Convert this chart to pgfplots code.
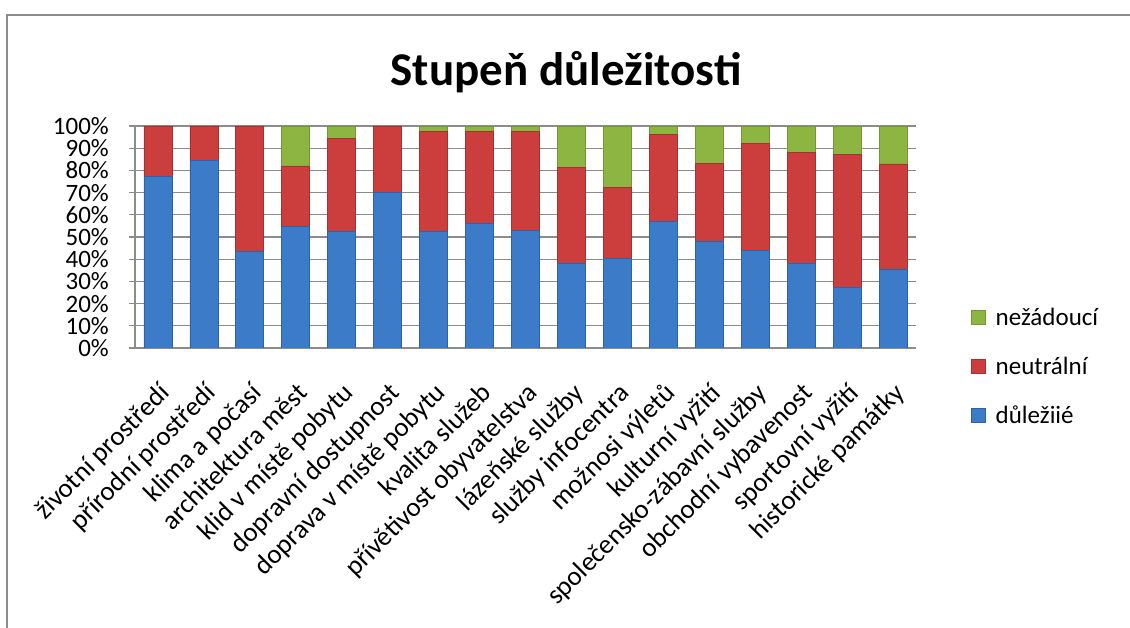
\documentclass[border=0pt]{standalone}
\usepackage{pgfplots}
\usepackage{pgfplotstable}
\pgfplotsset{compat=1.18}
\usepackage{fontspec}
\setmainfont{Carlito}
\definecolor{cblue}{HTML}{3C7BC8}
\definecolor{cblueD}{HTML}{2C62A6}
\definecolor{cred}{HTML}{CC3E3E}
\definecolor{credD}{HTML}{A53131}
\definecolor{cgreen}{HTML}{8DB541}
\definecolor{cgreenD}{HTML}{739833}
\definecolor{gridc}{HTML}{8C8C8C}
\pgfplotstableread{
x b r g
0 77.1 22.9 0
1 84.4 15.6 0
2 43.3 56.7 0
3 54.9 27.1 18.0
4 52.3 42.0 5.7
5 70.2 29.8 0
6 52.3 45.1 2.6
7 55.9 41.5 2.6
8 53.1 44.3 2.6
9 38.3 43.1 18.6
10 40.2 32.0 27.8
11 57.1 39.1 3.8
12 48.1 35.1 16.8
13 44.1 47.9 8.0
14 38.3 49.8 11.9
15 27.1 60.0 12.9
16 35.6 47.3 17.1
}\data
\begin{document}
\begin{tikzpicture}[x=1pt,y=1pt]
\useasboundingbox (0,0) rectangle (1130,628);
\draw[gridc, line width=1.5pt] (7,0) -- (7,613) -- (1130,613);
\node[font=\fontsize{47}{50}\selectfont\bfseries] at (566,556) {Stupeň důležitosti};
\begin{axis}[
  at={(135pt,280pt)}, anchor=south west,
  scale only axis, width=781pt, height=222pt,
  ybar stacked, bar width=28pt,
  xmin=-0.5, xmax=16.5, ymin=0, ymax=100,
  xtick={0,...,16},
  xticklabels={životní prostředí, přírodní prostředí, klima a počasí, architektura měst, klid v místě pobytu, dopravní dostupnost, doprava v místě pobytu, kvalita služeb, přívětivost obyvatelstva, lázeňské služby, služby infocentra, možnosi výletů, kulturní vyžití, společensko-zábavní služby, obchodní vybavenost, sportovní vyžití, historické památky},
  xticklabel style={xshift=0pt, yshift=-27pt, rotate=45, anchor=north east, inner sep=0pt, font=\fontsize{27}{27}\selectfont},
  ytick={0,10,...,100},
  yticklabel={\pgfmathprintnumber{\tick}\%},
  yticklabel style={font=\fontsize{25}{25}\selectfont, inner sep=0pt, xshift=-20pt, anchor=east},
  /pgf/number format/assume math mode=true,
  axis x line*=bottom, axis y line*=left,
  axis line style={gridc, line width=1.5pt, -},
  xtick style={draw=none},
  ytick style={gridc, line width=1.2pt},
  tick align=outside, major tick length=6pt,
  ymajorgrids, grid style={gridc, line width=1.3pt},
  legend style={at={(1.07,0.19)}, anchor=north west, draw=none, fill=none,
    font=\fontsize{25}{25}\selectfont, row sep=26pt, column sep=8pt, inner sep=0pt},
  legend cell align=left,
  reverse legend,
  legend image code/.code={\filldraw[#1] (0pt,-7pt) rectangle (14pt,7pt);},
]
\addplot[fill=cblue, draw=cblueD, line width=0.8pt] table[x=x, y=b] {\data};
\addplot[fill=cred, draw=credD, line width=0.8pt] table[x=x, y=r] {\data};
\addplot[fill=cgreen, draw=cgreenD, line width=0.8pt] table[x=x, y=g] {\data};
\legend{důležiié, neutrální, nežádoucí}
\end{axis}
\end{tikzpicture}
\end{document}
